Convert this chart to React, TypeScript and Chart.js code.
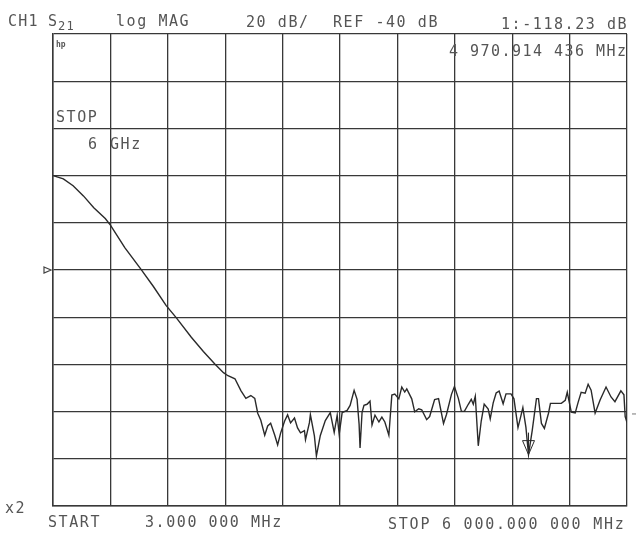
import React, { useEffect, useRef } from "react";
import { Chart, registerables } from "chart.js";

Chart.register(...registerables);

// Sweep settings (MHz) and display scale (dB)
const X_START_MHZ = 3;
const X_STOP_MHZ = 6000;
const Y_MIN_DB = -140;
const Y_MAX_DB = 60;
const Y_STEP_DB = 20;
const REF_DB = -40;
const MARKER_MHZ = 4970.914436;
const MARKER_DB = -118.23;
const EDGE_TICK_DB = -101;

// Trace: S21 log MAG
const FREQ_MHZ = [
  3, 21, 111, 213, 321, 429, 549, 603, 753, 921, 1052, 1184, 1292, 1448, 1574, 1694, 1784,
  1831, 1904, 1966, 2018, 2070, 2111, 2142, 2174, 2215, 2246, 2277, 2319, 2350, 2381, 2423,
  2454, 2485, 2526, 2558, 2589, 2630, 2641, 2682, 2692, 2734, 2755, 2796, 2848, 2900,
  2941, 2972, 2993, 3024, 3076, 3107, 3149, 3180, 3201, 3211, 3232, 3252, 3284, 3315, 3336,
  3367, 3408, 3439, 3470, 3512, 3543, 3574, 3616, 3647, 3678, 3699, 3751, 3782, 3824, 3855, 3907,
  3938, 3990, 4031, 4083, 4114, 4166, 4197, 4238, 4270, 4301, 4342, 4373, 4394, 4415, 4446, 4477,
  4508, 4550, 4571, 4602, 4633, 4664, 4706, 4736, 4788, 4819, 4861, 4892, 4912, 4944, 4971,
  5010, 5054, 5075, 5106, 5137, 5179, 5200, 5251, 5314, 5355, 5376, 5407, 5418, 5459, 5490,
  5521, 5563, 5594, 5625, 5667, 5719, 5781, 5833, 5874, 5936, 5968, 5981, 6000,
];
const S21_DB = [
  0, -0.2, -1.4, -4.3, -8.6, -13.6, -18.2, -21, -30.5, -39.6, -47.0, -55.0, -60.3, -68.5, -74.5, -79.8, -83.5,
  -84.8, -86.1, -91.1, -94.4, -93.2, -94.4, -100.7, -103.7, -110.0, -106.1, -104.9, -109.9, -114.1, -109.1, -104.0,
  -101.4, -104.8, -102.7, -106.9, -109.0, -108.1, -111.9, -104.7, -101.3, -110.3, -118.8, -110.1, -103.8, -100.4,
  -108.8, -101.6, -109.6, -100.4, -99.5, -97.4, -91.0, -94.8, -105.3, -115.4, -100.3, -97.3, -96.9, -95.6, -105.7,
  -101.5, -104.4, -102.3, -104.4, -110.0, -93.0, -92.6, -94.6, -89.6, -91.7, -90.4, -94.6, -100.1, -98.8, -99.2, -103.4,
  -102.1, -94.9, -94.5, -105.0, -101.2, -92.7, -89.4, -94.4, -99.9, -99.9, -96.9, -94.8, -96.9, -93.5, -114.5, -104.0,
  -96.8, -98.9, -103.1, -96.3, -92.1, -91.3, -96.7, -92.5, -92.5, -94.6, -106.8, -101.7, -98.3, -106.7, -118.23,
  -108, -94.5, -94.5, -105.0, -107.1, -100.8, -96.5, -96.5, -96.5, -95.2, -91.8, -98.1, -100.2, -100.6, -96.0,
  -91.8, -92.2, -88.4, -90.9, -100.6, -95.1, -89.6, -93.8, -95.8, -91.2, -92.9, -102.1, -104.6,
];

// Annotation text (instrument plotter labels)
const HEADER_CH = "CH1";
const HEADER_PARAM = "S";
const HEADER_PARAM_SUB = "21";
const HEADER_FORMAT = "log MAG";
const HEADER_SCALE = "20 dB/";
const HEADER_REF = "REF -40 dB";
const HEADER_MARKER = "1:-118.23 dB";
const MARKER_FREQ_TEXT = "4 970.914 436 MHz";
const LOGO_TEXT = "hp";
const STOP_LABEL = "STOP";
const STOP_VALUE = "6";
const STOP_UNIT = "GHz";
const AVG_TEXT = "x2";
const START_LABEL = "START";
const START_VALUE = "3.000 000 MHz";
const STOP_FOOTER = "STOP 6 000.000 000 MHz";

const GRID_COLOR = "#383838";
const TRACE_COLOR = "#2a2a2a";
const TEXT_COLOR = "#555555";
const FONT = "'DejaVu Sans Mono', 'Liberation Mono', monospace";

function drawSpaced(ctx: CanvasRenderingContext2D, s: string, x: number, y: number, pitch: number, size: number) {
  ctx.font = `${size}px ${FONT}`;
  for (let i = 0; i < s.length; i++) {
    ctx.fillText(s[i], x + i * pitch, y);
  }
}

const overlayPlugin = {
  id: "vnaOverlay",
  afterDraw(chart: any) {
    const ctx: CanvasRenderingContext2D = chart.ctx;
    const xs = chart.scales.x;
    const ys = chart.scales.y;
    const area = chart.chartArea;
    ctx.save();
    ctx.fillStyle = TEXT_COLOR;
    ctx.textBaseline = "alphabetic";
    const P = 10.6;
    const FS = 15;
    drawSpaced(ctx, HEADER_CH, 8, 26, 10.2, FS);
    drawSpaced(ctx, HEADER_PARAM, 48, 26, P, FS);
    drawSpaced(ctx, HEADER_PARAM_SUB, 58, 30, 8.5, 12);
    drawSpaced(ctx, HEADER_FORMAT, 116, 26, P, FS);
    drawSpaced(ctx, HEADER_SCALE, 246, 27, P, FS);
    drawSpaced(ctx, HEADER_REF, 333, 27, P, FS);
    drawSpaced(ctx, HEADER_MARKER, 501, 29, P, FS);
    drawSpaced(ctx, MARKER_FREQ_TEXT, 449, 56, 10.5, FS);
    ctx.font = `bold 8px ${FONT}`;
    ctx.fillText(LOGO_TEXT, 56, 47);
    drawSpaced(ctx, STOP_LABEL, 56, 122, P, FS);
    drawSpaced(ctx, STOP_VALUE, 88, 149, P, FS);
    drawSpaced(ctx, STOP_UNIT, 110, 149, P, FS);
    drawSpaced(ctx, AVG_TEXT, 5, 513, P, FS);
    drawSpaced(ctx, START_LABEL, 48, 527, P, FS);
    drawSpaced(ctx, START_VALUE, 145, 527, P, FS);
    drawSpaced(ctx, STOP_FOOTER, 388, 529, 10.8, FS);

    // reference position triangle
    const yr = ys.getPixelForValue(REF_DB);
    ctx.strokeStyle = "#444";
    ctx.lineWidth = 1.2;
    ctx.beginPath();
    ctx.moveTo(area.left - 9, yr - 3);
    ctx.lineTo(area.left - 2, yr);
    ctx.lineTo(area.left - 9, yr + 3);
    ctx.closePath();
    ctx.stroke();

    // small edge tick at right
    const ye = ys.getPixelForValue(EDGE_TICK_DB);
    ctx.strokeStyle = "#777";
    ctx.lineWidth = 1;
    ctx.beginPath();
    ctx.moveTo(area.right + 5, ye);
    ctx.lineTo(area.right + 9, ye);
    ctx.stroke();

    // marker 1 arrow
    const mx = xs.getPixelForValue(MARKER_MHZ);
    const my = ys.getPixelForValue(MARKER_DB);
    ctx.strokeStyle = TRACE_COLOR;
    ctx.lineWidth = 1;
    ctx.beginPath();
    ctx.moveTo(mx, my);
    ctx.lineTo(mx - 6, my - 14);
    ctx.lineTo(mx + 6, my - 14);
    ctx.closePath();
    ctx.moveTo(mx, my);
    ctx.lineTo(mx, my - 22);
    ctx.stroke();
    ctx.restore();
  },
};

export default function App() {
  const ref = useRef<HTMLCanvasElement | null>(null);
  useEffect(() => {
    if (!ref.current) return;
    const chart = new Chart(ref.current, {
      type: "line",
      data: {
        datasets: [
          {
            data: FREQ_MHZ.map((f, i) => ({ x: f, y: S21_DB[i] })),
            borderColor: TRACE_COLOR,
            borderWidth: 1.4,
            pointRadius: 0,
            tension: 0,
            fill: false,
          },
        ],
      },
      options: {
        animation: false,
        responsive: false,
        devicePixelRatio: 1,
        layout: { padding: { left: 53, top: 34, right: 13, bottom: 31 } },
        plugins: { legend: { display: false }, tooltip: { enabled: false } },
        scales: {
          x: {
            type: "linear",
            min: X_START_MHZ,
            max: X_STOP_MHZ,
            afterBuildTicks: (axis: any) => {
              const n = 10;
              axis.ticks = Array.from({ length: n + 1 }, (_, i) => ({
                value: X_START_MHZ + (i * (X_STOP_MHZ - X_START_MHZ)) / n,
              }));
            },
            ticks: { display: false },
            grid: { color: GRID_COLOR, lineWidth: 1.3, drawTicks: false },
            border: { display: true, color: GRID_COLOR, width: 1.5 },
          },
          y: {
            type: "linear",
            min: Y_MIN_DB,
            max: Y_MAX_DB,
            ticks: { display: false, stepSize: Y_STEP_DB },
            grid: { color: GRID_COLOR, lineWidth: 1.3, drawTicks: false },
            border: { display: true, color: GRID_COLOR, width: 1.5 },
          },
        },
      },
      plugins: [overlayPlugin],
    });
    return () => chart.destroy();
  }, []);
  return (
    <div style={{ position: "fixed", left: 0, top: 0, width: 640, height: 537, background: "#ffffff" }}>
      <canvas ref={ref} width={640} height={537} style={{ display: "block" }} />
    </div>
  );
}
